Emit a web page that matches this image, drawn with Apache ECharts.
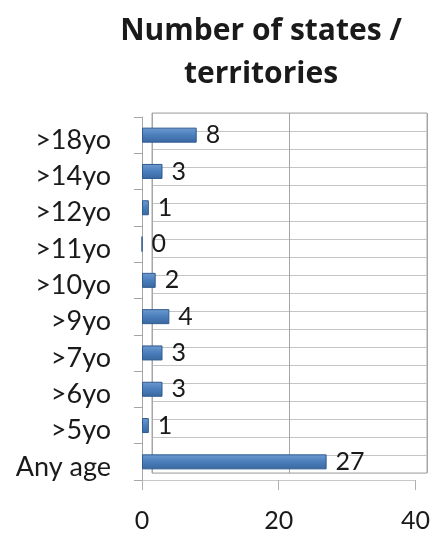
<!DOCTYPE html>
<html>
<head>
<meta charset="utf-8">
<script src="https://cdn.jsdelivr.net/npm/echarts@6/dist/echarts.min.js"></script>
<style>html,body{margin:0;padding:0;background:#fff;}#c{width:433px;height:536px;}</style>
</head>
<body>
<div id="c"></div>
<script>
const categories = ['>18yo', '>14yo', '>12yo', '>11yo', '>10yo', '>9yo', '>7yo', '>6yo', '>5yo', 'Any age'];
const values = [8, 3, 1, 0, 2, 4, 3, 3, 1, 27];
const xTicks = [0, 20, 40];
const titleText = 'Number of states /\nterritories';

const chart = echarts.init(document.getElementById('c'));
const font = 'Lato, "Open Sans", sans-serif';
const gridLine = '#a6a6a6';
chart.setOption({
  animation: false,
  backgroundColor: '#ffffff',
  title: {
    text: titleText,
    left: 256, top: 5, textAlign: 'center',
    textStyle: { fontFamily: '"Open Sans", Lato, sans-serif', fontWeight: 'bold', fontSize: 30, lineHeight: 43, color: '#1a1a1a' }
  },
  grid: [
    { left: 152, right: 6, top: 113, bottom: 63, show: true, borderColor: gridLine, borderWidth: 1 },
    { left: 142, right: 15, top: 117, bottom: 56 }
  ],
  xAxis: [
    { gridIndex: 0, type: 'value', min: 0, max: 40, interval: 20,
      axisLabel: { show: false }, axisLine: { show: false }, axisTick: { show: false },
      splitLine: { show: true, lineStyle: { color: gridLine } } },
    { gridIndex: 1, type: 'value', min: 0, max: 40, interval: 20,
      axisLine: { show: true, lineStyle: { color: '#c8c8c8' } },
      axisTick: { show: true, length: 10, lineStyle: { color: '#b0b0b0' } },
      splitLine: { show: false },
      axisLabel: { formatter: v => xTicks.includes(v) ? String(v) : '', fontFamily: font, fontSize: 25, color: '#1a1a1a', margin: 28 } }
  ],
  yAxis: [
    { gridIndex: 0, type: 'value', min: 0, max: 20, interval: 1,
      axisLabel: { show: false }, axisLine: { show: false }, axisTick: { show: false },
      splitLine: { show: true, lineStyle: { color: '#c4c4c4' } } },
    { gridIndex: 1, type: 'category', data: categories, inverse: true,
      axisLine: { show: true, lineStyle: { color: gridLine } },
      axisTick: { show: true, length: 8, lineStyle: { color: gridLine } },
      axisLabel: { margin: 31, formatter: v => '{a|' + v + '}',
        rich: { a: { fontFamily: font, fontSize: 27, color: '#1a1a1a', padding: [10, 0, 0, 0] } } } }
  ],
  series: [{
    type: 'bar', xAxisIndex: 1, yAxisIndex: 1,
    data: values,
    barWidth: 15,
    itemStyle: {
      color: new echarts.graphic.LinearGradient(0, 0, 0, 1, [
        { offset: 0, color: '#6f9bd1' },
        { offset: 0.5, color: '#4a7ebb' },
        { offset: 1, color: '#3a67a0' }
      ]),
      borderColor: '#2f5a8e', borderWidth: 1
    },
    label: { show: true, position: 'right', distance: 9, fontFamily: font, fontSize: 25, color: '#1a1a1a' }
  }]
});
</script>
</body>
</html>
